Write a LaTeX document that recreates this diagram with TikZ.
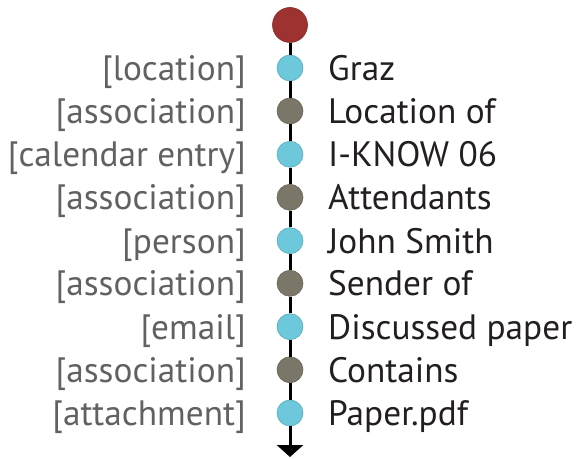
\documentclass[tikz,border=0pt]{standalone}
\usepackage{fontspec}
\setmainfont{PT Sans}
\usetikzlibrary{arrows.meta}
\definecolor{redball}{HTML}{9E3230}
\definecolor{blueball}{HTML}{6CC8DA}
\definecolor{greyball}{HTML}{7A7668}
\definecolor{labelgrey}{HTML}{5F6162}
\definecolor{textdark}{HTML}{231F20}
\tikzset{
  ball/.style={circle, inner sep=0pt, minimum size=26bp, draw=#1!85!black, line width=0.6bp, fill=#1},
  topball/.style={circle, inner sep=0pt, minimum size=35bp, draw=redball!85!black, line width=0.6bp, fill=redball},
  link/.style={line width=3bp, black},
  typetext/.style={inner sep=0pt, anchor=base east, text=labelgrey, font=\fontsize{35.3bp}{40bp}\selectfont},
  nametext/.style={inner sep=0pt, anchor=base west, text=textdark, font=\fontsize{35.3bp}{40bp}\selectfont}
}
\begin{document}
\begin{tikzpicture}[x=1bp,y=-1bp]
\useasboundingbox (0,0) rectangle (578,459);
\node[topball] (n0) at (290,25) {};
\node[ball=blueball] (n1) at (290,68) {};
\node[ball=greyball] (n2) at (290,111) {};
\node[ball=blueball] (n3) at (290,154.3) {};
\node[ball=greyball] (n4) at (290,197.3) {};
\node[ball=blueball] (n5) at (290,240.7) {};
\node[ball=greyball] (n6) at (290,283.3) {};
\node[ball=blueball] (n7) at (290,326.7) {};
\node[ball=greyball] (n8) at (290,369.8) {};
\node[ball=blueball] (n9) at (290,413) {};
\coordinate (end) at (290,457);
\draw[link] (n0) -- (n1);
\draw[link] (n1) -- (n2);
\draw[link] (n2) -- (n3);
\draw[link] (n3) -- (n4);
\draw[link] (n4) -- (n5);
\draw[link] (n5) -- (n6);
\draw[link] (n6) -- (n7);
\draw[link] (n7) -- (n8);
\draw[link] (n8) -- (n9);
\draw[link, -{Triangle[width=26bp,length=12bp]}] (n9) -- (end);
\node[typetext] (t1) at (246,80.5) {[location]};
\node[typetext] (t2) at (246,123.5) {[association]};
\node[typetext] (t3) at (246,166.8) {[calendar entry]};
\node[typetext] (t4) at (246,209.8) {[association]};
\node[typetext] (t5) at (246,253.2) {[person]};
\node[typetext] (t6) at (246,295.8) {[association]};
\node[typetext] (t7) at (246,339.2) {[email]};
\node[typetext] (t8) at (246,382.3) {[association]};
\node[typetext] (t9) at (246,425.5) {[attachment]};
\node[nametext] (v1) at (328,80.5) {Graz};
\node[nametext] (v2) at (328,123.5) {Location of};
\node[nametext] (v3) at (328,166.8) {I-KNOW 06};
\node[nametext] (v4) at (328,209.8) {Attendants};
\node[nametext] (v5) at (328,253.2) {John Smith};
\node[nametext] (v6) at (328,295.8) {Sender of};
\node[nametext] (v7) at (328,339.2) {Discussed paper};
\node[nametext] (v8) at (328,382.3) {Contains};
\node[nametext] (v9) at (328,425.5) {Paper.pdf};
\end{tikzpicture}
\end{document}
